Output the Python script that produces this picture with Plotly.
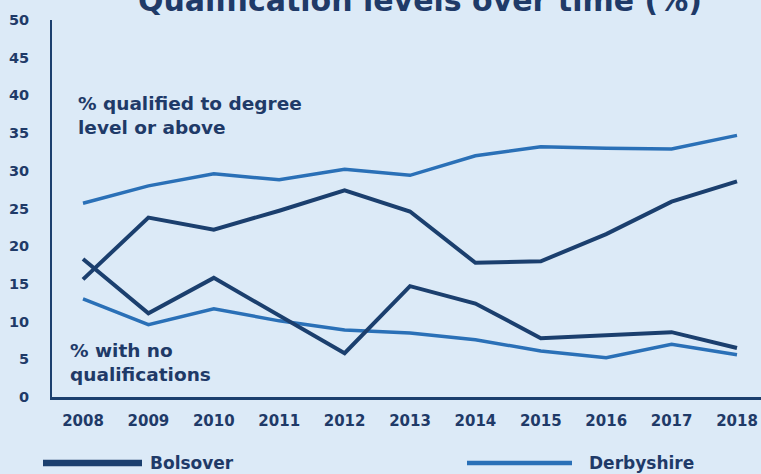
import plotly.graph_objects as go

years = [2008, 2009, 2010, 2011, 2012, 2013, 2014, 2015, 2016, 2017, 2018]
bolsover_degree = [15.6, 23.8, 22.2, 24.7, 27.4, 24.6, 17.8, 18.0, 21.6, 25.9, 28.6]
derbyshire_degree = [25.7, 28.0, 29.6, 28.8, 30.2, 29.4, 32.0, 33.2, 33.0, 32.9, 34.7]
bolsover_noqual = [18.3, 11.1, 15.8, 10.8, 5.8, 14.7, 12.4, 7.8, 8.2, 8.6, 6.5]
derbyshire_noqual = [13.0, 9.6, 11.7, 10.1, 8.9, 8.5, 7.6, 6.1, 5.2, 7.0, 5.6]
y_ticks = [0, 5, 10, 15, 20, 25, 30, 35, 40, 45, 50]

NAVY = "#1b3f6e"
BLUE = "#2a70b7"
BG = "#dceaf7"
TXT = "#1f3a68"
FONT = "DejaVu Sans"

W, H = 761, 474
ML, MR, MT, MB = 52, 0, 20, 77
PW, PH = W - ML - MR, H - MT - MB


def px(x):
    return (x - ML) / PW


def py(y):
    return (H - MB - y) / PH


fig = go.Figure()
for vals in (derbyshire_degree, derbyshire_noqual):
    fig.add_trace(go.Scatter(x=years, y=vals, mode="lines",
                             line=dict(color=BLUE, width=3.5), showlegend=False))
for vals in (bolsover_degree, bolsover_noqual):
    fig.add_trace(go.Scatter(x=years, y=vals, mode="lines",
                             line=dict(color=NAVY, width=4), showlegend=False))

fig.update_layout(
    width=W, height=H,
    margin=dict(l=ML, r=MR, t=MT, b=MB),
    paper_bgcolor=BG, plot_bgcolor=BG,
    font=dict(family=FONT, color=TXT),
    title=dict(text="<b>Qualification levels over time (%)</b>",
               x=420 / W, xanchor="center", y=1 - 11 / H, yref="container",
               yanchor="bottom",
               font=dict(size=30, color=TXT, family=FONT)),
)

fig.update_xaxes(range=[2007.526, 2018.367], tickmode="array", tickvals=years,
                 ticktext=[f"<b>{y}</b>" for y in years], ticks="",
                 showgrid=False, zeroline=False, showline=True,
                 linecolor=NAVY, linewidth=3, ticklabelstandoff=8,
                 tickfont=dict(size=15, color=TXT, family=FONT))
fig.update_yaxes(range=[0, 50], tickmode="array", tickvals=y_ticks,
                 ticktext=[f"<b>{v}</b>" for v in y_ticks], ticks="",
                 showgrid=False, zeroline=False, showline=True,
                 linecolor=NAVY, linewidth=2, ticklabelstandoff=18,
                 tickfont=dict(size=14.5, color=TXT, family=FONT))

fig.add_annotation(x=px(76), y=py(116), xref="paper", yref="paper",
                   text="<b>% qualified to degree<br>level or above</b>",
                   showarrow=False, xanchor="left", yanchor="middle", align="left",
                   font=dict(size=18.5, color=TXT, family=FONT))
fig.add_annotation(x=px(68), y=py(362), xref="paper", yref="paper",
                   text="<b>% with no<br>qualifications</b>",
                   showarrow=False, xanchor="left", yanchor="middle", align="left",
                   font=dict(size=18.5, color=TXT, family=FONT))

# custom legend
ly = py(463)
fig.add_shape(type="line", xref="paper", yref="paper",
              x0=px(43), x1=px(142), y0=ly, y1=ly,
              line=dict(color=NAVY, width=6.5))
fig.add_shape(type="line", xref="paper", yref="paper",
              x0=px(467), x1=px(572), y0=ly, y1=ly,
              line=dict(color=BLUE, width=4.5))
fig.add_annotation(xref="paper", yref="paper", x=px(148), y=ly,
                   text="<b>Bolsover</b>", showarrow=False, xanchor="left", yanchor="middle",
                   font=dict(size=17, color=TXT, family=FONT))
fig.add_annotation(xref="paper", yref="paper", x=px(587), y=ly,
                   text="<b>Derbyshire</b>", showarrow=False, xanchor="left", yanchor="middle",
                   font=dict(size=17, color=TXT, family=FONT))

fig.write_html("out.html")
